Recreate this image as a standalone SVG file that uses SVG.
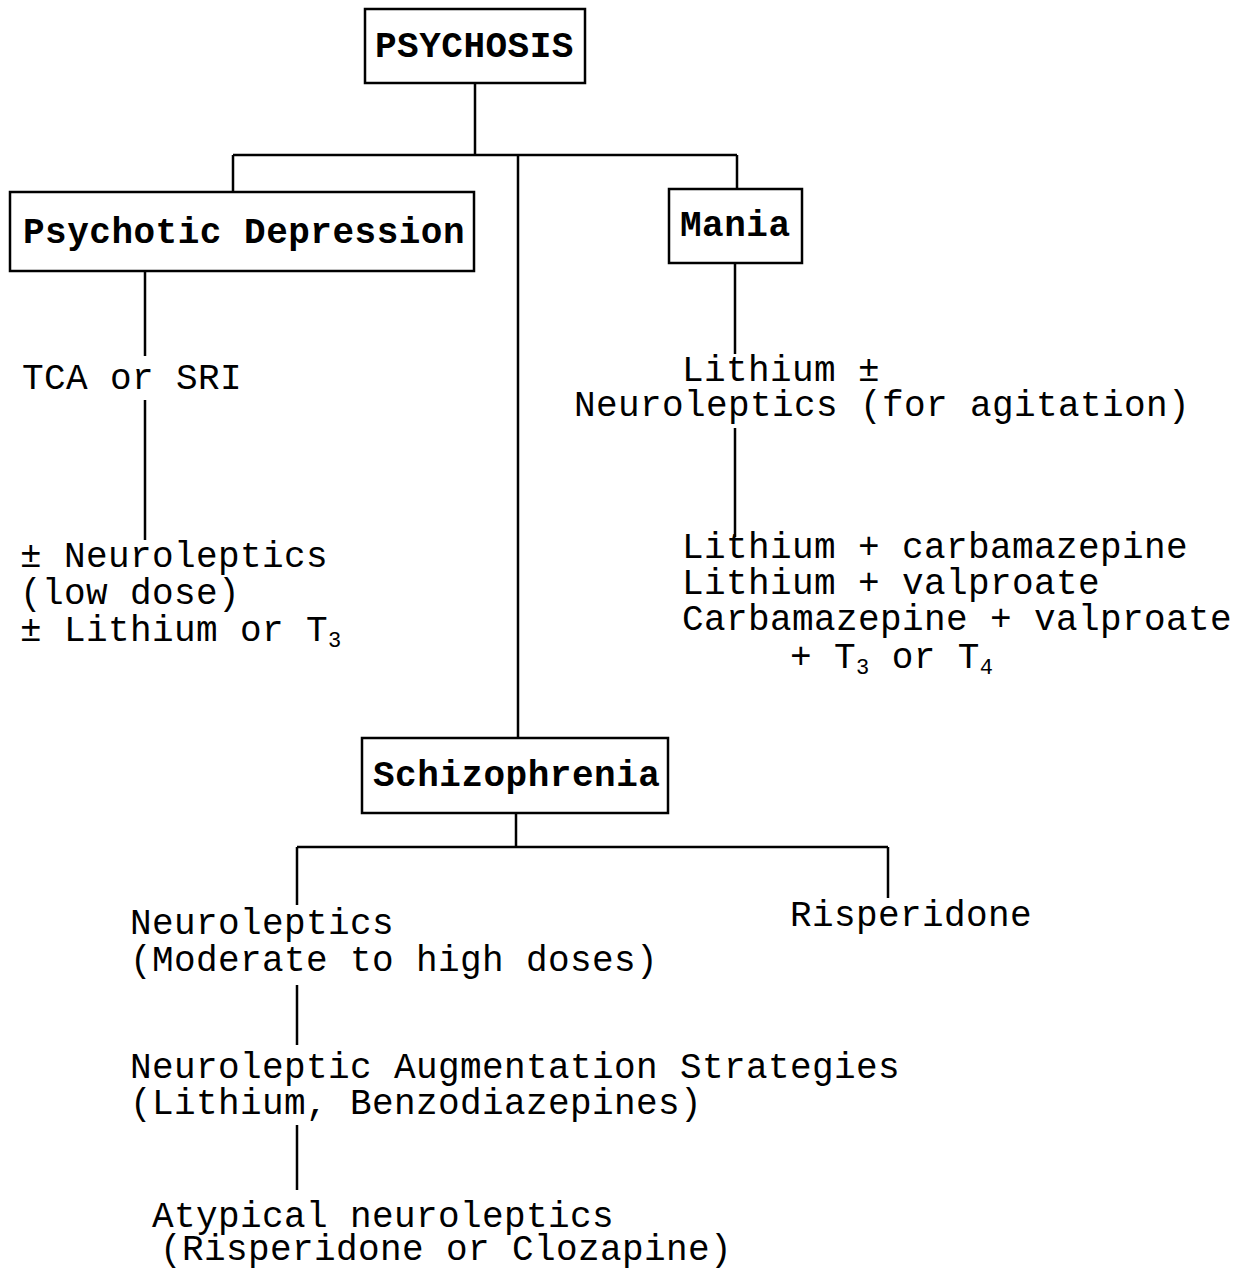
<svg xmlns="http://www.w3.org/2000/svg" width="1245" height="1270" viewBox="0 0 1245 1270">
<style>
.box{fill:#fff;stroke:#000;stroke-width:2.5}
.lbl{font-family:"Liberation Mono","Courier New",monospace;font-size:36px;font-weight:bold;letter-spacing:0.5px;fill:#000}
.txt{font-family:"Liberation Mono","Courier New",monospace;font-size:36px;letter-spacing:0.4px;fill:#000}
.sub{font-size:22px}
.con{fill:none;stroke:#000;stroke-width:2.5}
</style>
<rect width="1245" height="1270" fill="#fff"/>
<g id="connectors">
<path class="con" d="M475 83V155M233 155H737M233 155V192M737 155V189M518 155V738"/>
<path class="con" d="M145 271V356M145 400V540"/>
<path class="con" d="M735 263V354M735 428V537"/>
<path class="con" d="M516 813V847M297 847H888M297 847V905M888 847V898"/>
<path class="con" d="M297 985V1045M297 1125V1190"/>
</g>
<g id="psychosis">
<rect class="box" x="365" y="9" width="220" height="74"/>
<text class="lbl" x="375" y="57">PSYCHOSIS</text>
</g>
<g id="psychotic-depression">
<rect class="box" x="10" y="192" width="464" height="79"/>
<text class="lbl" x="23" y="243">Psychotic Depression</text>
</g>
<g id="mania">
<rect class="box" x="669" y="189" width="133" height="74"/>
<text class="lbl" x="680" y="236">Mania</text>
</g>
<g id="tca">
<text class="txt" x="22" y="389">TCA or SRI</text>
</g>
<g id="depression-augment">
<text class="txt" x="20" y="567">± Neuroleptics</text>
<text class="txt" x="20" y="604">(low dose)</text>
<text class="txt" x="20" y="641">± Lithium or T<tspan class="sub" dy="6">3</tspan></text>
</g>
<g id="lithium">
<text class="txt" x="682" y="381">Lithium ±</text>
<text class="txt" x="574" y="416">Neuroleptics (for agitation)</text>
</g>
<g id="mania-combos">
<text class="txt" x="682" y="558">Lithium + carbamazepine</text>
<text class="txt" x="682" y="594">Lithium + valproate</text>
<text class="txt" x="682" y="630">Carbamazepine + valproate</text>
<text class="txt" x="790" y="668">+ T<tspan class="sub" dy="6">3</tspan><tspan dy="-6"> or T</tspan><tspan class="sub" dy="6">4</tspan></text>
</g>
<g id="schizophrenia">
<rect class="box" x="362" y="738" width="306" height="75"/>
<text class="lbl" x="373" y="786">Schizophrenia</text>
</g>
<g id="risperidone">
<text class="txt" x="790" y="926">Risperidone</text>
</g>
<g id="neuroleptics">
<text class="txt" x="130" y="934">Neuroleptics</text>
<text class="txt" x="130" y="971">(Moderate to high doses)</text>
</g>
<g id="augmentation">
<text class="txt" x="130" y="1078">Neuroleptic Augmentation Strategies</text>
<text class="txt" x="130" y="1114">(Lithium, Benzodiazepines)</text>
</g>
<g id="atypical">
<text class="txt" x="152" y="1227">Atypical neuroleptics</text>
<text class="txt" x="160" y="1260">(Risperidone or Clozapine)</text>
</g>
</svg>
